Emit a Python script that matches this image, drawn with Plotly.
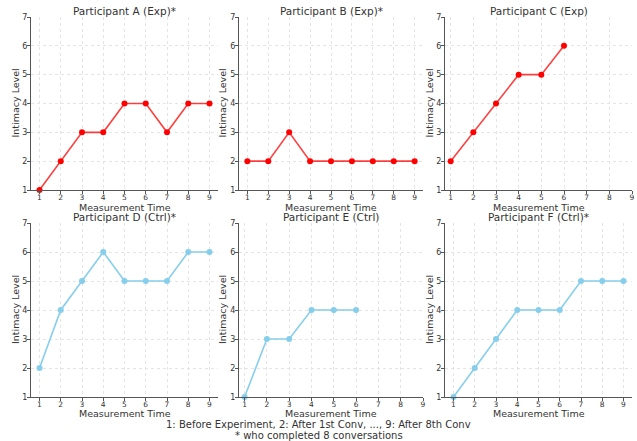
import plotly.graph_objects as go

times = [1, 2, 3, 4, 5, 6, 7, 8, 9]
titles = ["Participant A (Exp)*", "Participant B (Exp)*", "Participant C (Exp)",
          "Participant D (Ctrl)*", "Participant E (Ctrl)", "Participant F (Ctrl)*"]
values_a = [1, 2, 3, 3, 4, 4, 3, 4, 4]
values_b = [2, 2, 3, 2, 2, 2, 2, 2, 2]
values_c = [2, 3, 4, 5, 5, 6]
values_d = [2, 4, 5, 6, 5, 5, 5, 6, 6]
values_e = [1, 3, 3, 4, 4, 4]
values_f = [1, 2, 3, 4, 4, 4, 5, 5, 5]
series = [values_a, values_b, values_c, values_d, values_e, values_f]
groups = ["Exp", "Exp", "Exp", "Ctrl", "Ctrl", "Ctrl"]
y_ticks = [1, 2, 3, 4, 5, 6, 7]
x_title = "Measurement Time"
y_title = "Intimacy Level"
footnote1 = "1: Before Experiment, 2: After 1st Conv, ..., 9: After 8th Conv"
footnote2 = "* who completed 8 conversations"

W, H = 637, 441
col_px = [(31, 218), (239, 423), (445, 632)]
row_px = [(17, 190), (223, 397)]
ytitle_x = [15, 222, 429]
xtitle_y = [207, 413]

line_col = {"Exp": "rgba(255,0,0,0.75)", "Ctrl": "rgba(135,206,235,1)"}
mark_col = {"Exp": "#ff0000", "Ctrl": "#87ceeb"}

FONT = "DejaVu Sans"
TXT = "#333333"
fig = go.Figure()
annotations = []


def ann(text, xp, yp, size, angle=0):
    return dict(text=text, x=xp / W, y=1 - yp / H, xref="paper", yref="paper",
                showarrow=False, xanchor="center", yanchor="middle", textangle=angle,
                font=dict(family=FONT, size=size, color=TXT))


for i, vals in enumerate(series):
    r, c = divmod(i, 3)
    ax = "" if i == 0 else str(i + 1)
    x0, x1 = col_px[c]
    y0, y1 = row_px[r]
    xs = times[:len(vals)]
    fig.add_trace(go.Scatter(
        x=xs, y=vals, mode="lines+markers",
        line=dict(color=line_col[groups[i]], width=1.6),
        marker=dict(color=mark_col[groups[i]], size=6),
        xaxis="x" + ax, yaxis="y" + ax, showlegend=False,
        hoverinfo="skip", cliponaxis=False))
    lo = 0.6 if len(vals) == 9 else 0.75
    hi = 9.4 if len(vals) == 9 else 9.0
    common = dict(showgrid=True, gridcolor="#e4e4e4", griddash="dot", gridwidth=1,
                  showline=True, linecolor="#555555", linewidth=1,
                  ticks="outside", ticklen=3, tickcolor="#555555",
                  zeroline=False, fixedrange=True, automargin=False)
    fig.update_layout(**{
        "xaxis" + ax: dict(domain=[x0 / W, x1 / W], range=[lo, hi],
                           tickmode="array", tickvals=times,
                           tickfont=dict(family=FONT, size=7.5, color=TXT),
                           ticklabelstandoff=-3,
                           anchor="y" + ax, **common),
        "yaxis" + ax: dict(domain=[1 - y1 / H, 1 - y0 / H], range=[1, 7],
                           tickmode="array", tickvals=y_ticks,
                           tickfont=dict(family=FONT, size=8, color=TXT),
                           ticklabelstandoff=-2,
                           anchor="x" + ax, **common),
    })
    annotations.append(ann(titles[i], (x0 + x1) / 2, y0 - 6, 10.5))
    annotations.append(ann(x_title, (x0 + x1) / 2, xtitle_y[r], 9.5))
    annotations.append(ann(y_title, ytitle_x[c], (y0 + y1) / 2, 9.5, angle=-90))

annotations.append(ann(footnote1, W / 2, 424, 10))
annotations.append(ann(footnote2, W / 2, 435, 10))

fig.update_layout(width=W, height=H, margin=dict(l=0, r=0, t=0, b=0, autoexpand=False),
                  paper_bgcolor="white", plot_bgcolor="white",
                  annotations=annotations, font=dict(family=FONT))
fig.write_html("out.html", config={"displayModeBar": False},
               post_script="document.body.style.margin='0';document.body.style.overflow='hidden';")
